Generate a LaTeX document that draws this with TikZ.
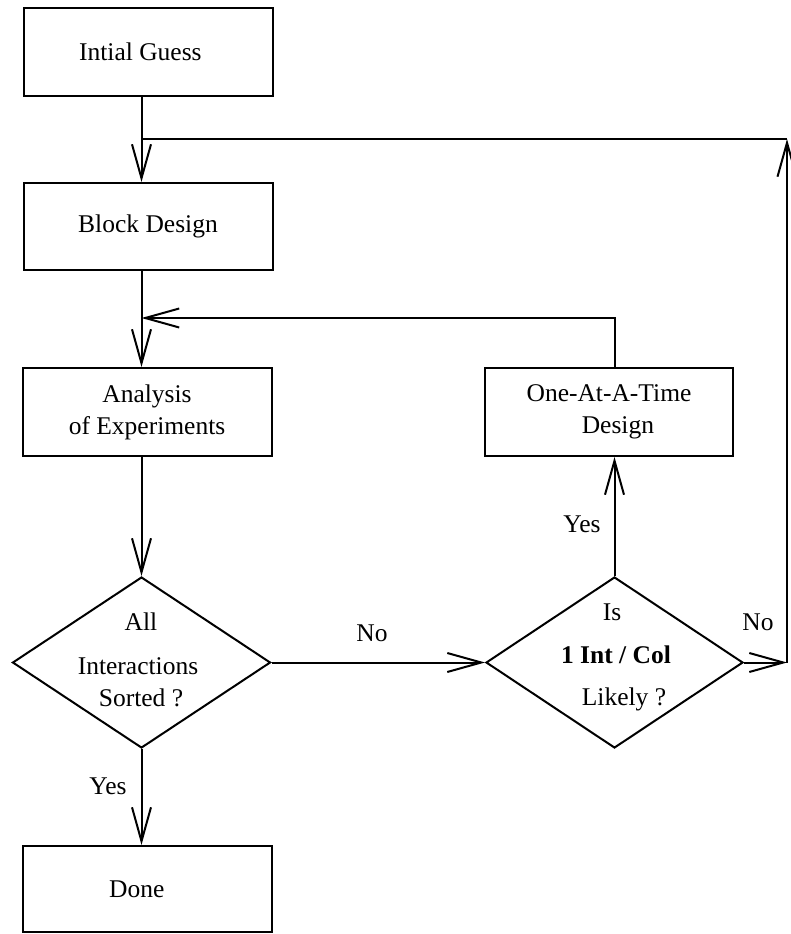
\documentclass[tikz,border=0pt]{standalone}
\usepackage{fontspec}
\setmainfont{Liberation Serif}
\usetikzlibrary{arrows.meta,shapes.geometric}
\begin{document}
\begin{tikzpicture}[x=1pt,y=-1pt,line width=2pt,
  >={Straight Barb[length=34pt,width=19pt]},
  every node/.style={font=\fontsize{25.5}{32}\selectfont},
  stepbox/.style={draw,rectangle,minimum width=249pt,minimum height=88pt,inner sep=0pt,align=center},
  decision/.style={draw,diamond,minimum width=258pt,minimum height=171pt,inner sep=0pt},
  txt/.style={inner sep=0pt,anchor=base}]
\useasboundingbox (0,0) rectangle (791,934);

% process boxes
\node[stepbox] (guess) at (148,52) {Intial Guess\hspace*{0.6em}};
\node[stepbox,minimum height=87pt] (block) at (148,226.5) {Block Design};
\node[stepbox] (ana) at (147,412) {Analysis\\of Experiments};
\node[stepbox,minimum width=248pt] (oat) at (609,412) {One-At-A-Time\\\hspace*{0.7em}Design};
\node[stepbox,minimum height=86pt] (done) at (147,889) {Done\hspace*{0.8em}};

% decisions
\node[decision] (d1) at (141.5,662.5) {};
\node[decision,minimum width=257pt] (d2) at (614.5,662.5) {};
\node[txt] (d1a) at (141,630) {All};
\node[txt] (d1b) at (138,674) {Interactions};
\node[txt] (d1c) at (141,706) {Sorted ?};
\node[txt] (d2a) at (612,620) {Is};
\node[txt] (d2b) at (616,663) {\textbf{1 Int / Col}};
\node[txt] (d2c) at (624,705) {Likely ?};

% branch labels
\node[txt] (nol) at (372,641) {No};
\node[txt] (nor) at (758,630) {No};
\node[txt] (yesr) at (582,532) {Yes};
\node[txt] (yesl) at (108,794) {Yes};

% loop corners
\coordinate (c1) at (787,662.5);
\coordinate (c2) at (787,139);
\coordinate (fb) at (614.5,318);

% main flow
\draw[->] (d1.north |- guess.south) -- (d1.north |- block.north);
\draw[->] (d1.north |- block.south) -- (d1.north |- ana.north);
\draw[->] (d1.north |- ana.south) -- (d1.north);
\draw[->] (d1.south) -- (d1.south |- done.north);
\draw[->] (d1.east) -- (d2.west);
\draw[->] (d2.north) -- (d2.north |- oat.south);

% feedback from one-at-a-time design
\draw[->] (d2.north |- oat.north) -- (fb) -- (d1.north |- fb);

% feedback from the "No" branch
\draw[->] (d2.east) -- (c1);
\draw[->] (c1) -- (c2);
\draw (c2) -- (d1.north |- c2);
\end{tikzpicture}
\end{document}
